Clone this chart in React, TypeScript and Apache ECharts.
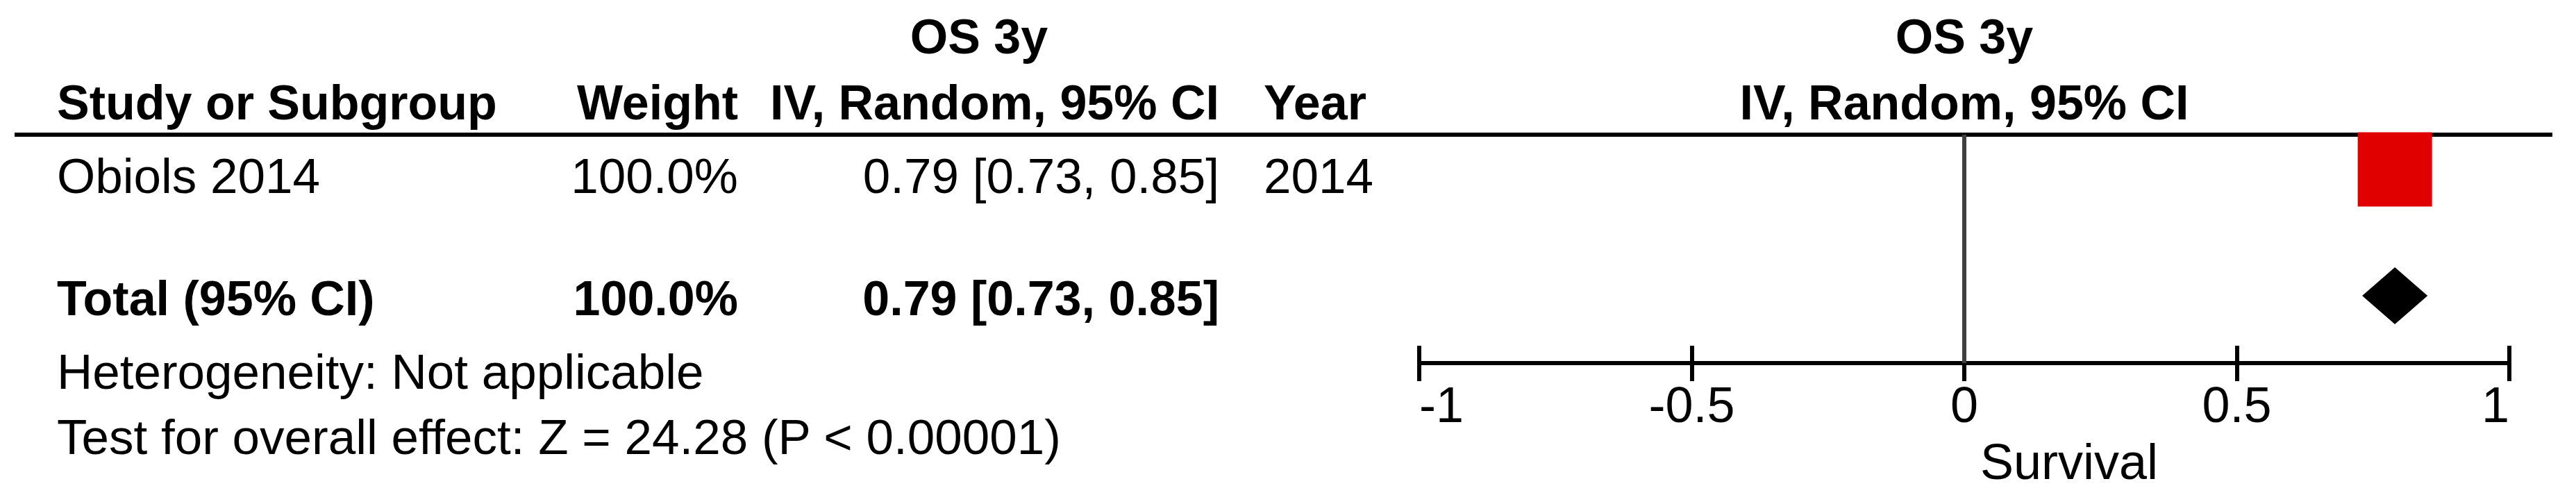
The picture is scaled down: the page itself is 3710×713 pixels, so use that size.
import React, { useEffect, useRef } from 'react';
import * as echarts from 'echarts';

// ---- data ----
const groupTitle = 'OS 3y';
const headerLabels = ['Study or Subgroup', 'Weight', 'IV, Random, 95% CI', 'Year'];
const plotTitle = 'IV, Random, 95% CI';
const studyNames = ['Obiols 2014'];
const studyWeights = ['100.0%'];
const studyYears = ['2014'];
const studyEstimates = [0.79];
const studyLower = [0.73];
const studyUpper = [0.85];
const studyRows = [1];
const totalLabel = 'Total (95% CI)';
const totalWeight = '100.0%';
const totalEstimate = 0.79;
const totalLower = 0.73;
const totalUpper = 0.85;
const totalRow = 3;
const heterogeneityText = 'Heterogeneity: Not applicable';
const overallEffectText = 'Test for overall effect: Z = 24.28 (P < 0.00001)';
const xTickValues = [-1, -0.5, 0, 0.5, 1];
const axisTitle = 'Survival';

const FONT = "'Liberation Sans', Arial, sans-serif";

const fmtCI = (e: number, l: number, u: number) =>
  `${e.toFixed(2)} [${l.toFixed(2)}, ${u.toFixed(2)}]`;

function txt(text: string, x: number, y: number, opts: { bold?: boolean; align?: string; size?: number } = {}) {
  const align = opts.align || 'left';
  return {
    type: 'text',
    x,
    y,
    silent: true,
    style: {
      text,
      fill: '#000',
      fontFamily: FONT,
      fontSize: opts.size || (opts.bold ? 70 : 71),
      fontWeight: opts.bold ? 'bold' : 'normal',
      align,
      textAlign: align,
      verticalAlign: 'middle',
      textVerticalAlign: 'middle',
    },
  };
}

export default function App() {
  const ref = useRef<HTMLDivElement>(null);
  useEffect(() => {
    if (!ref.current) return;
    const chart = echarts.init(ref.current, null, { renderer: 'svg' });

    const COL_STUDY = 82;
    const COL_WEIGHT = 1063;
    const COL_CI = 1756;
    const COL_YEAR = 1820;
    const Y_GROUP = 53;
    const Y_HEAD = 148;
    const studyY = [253];
    const Y_TOTAL = 430;
    const Y_HET = 535;
    const Y_TEST = 629;

    const graphics: any[] = [
      { type: 'line', z: 0, shape: { x1: 21, y1: 194, x2: 3676, y2: 194 }, style: { stroke: '#000', lineWidth: 6 } },
      txt(groupTitle, 1410, Y_GROUP, { bold: true, align: 'center' }),
      txt(headerLabels[0], COL_STUDY, Y_HEAD, { bold: true }),
      txt(headerLabels[1], COL_WEIGHT, Y_HEAD, { bold: true, align: 'right' }),
      txt(headerLabels[2], COL_CI, Y_HEAD, { bold: true, align: 'right' }),
      txt(headerLabels[3], COL_YEAR, Y_HEAD, { bold: true }),
      txt(groupTitle, 2829, Y_GROUP, { bold: true, align: 'center' }),
      txt(plotTitle, 2829, Y_HEAD, { bold: true, align: 'center' }),
      txt(totalLabel, COL_STUDY, Y_TOTAL, { bold: true }),
      txt(totalWeight, COL_WEIGHT, Y_TOTAL, { bold: true, align: 'right' }),
      txt(fmtCI(totalEstimate, totalLower, totalUpper), COL_CI, Y_TOTAL, { bold: true, align: 'right' }),
      txt(heterogeneityText, COL_STUDY, Y_HET),
      txt(overallEffectText, COL_STUDY, Y_TEST),
      txt(axisTitle, 2852, 665, { size: 72 }),
    ];
    studyNames.forEach((n, i) => {
      graphics.push(txt(n, COL_STUDY, studyY[i]));
      graphics.push(txt(studyWeights[i], COL_WEIGHT, studyY[i], { align: 'right' }));
      graphics.push(txt(fmtCI(studyEstimates[i], studyLower[i], studyUpper[i]), COL_CI, studyY[i], { align: 'right' }));
      graphics.push(txt(studyYears[i], COL_YEAR, studyY[i]));
    });

    const xMin = xTickValues[0];
    const xMax = xTickValues[xTickValues.length - 1];
    const xInt = xTickValues[1] - xTickValues[0];

    chart.setOption({
      animation: false,
      backgroundColor: '#fff',
      grid: { left: 2044, right: 96, top: 194, bottom: 190, containLabel: false },
      xAxis: [
        {
          type: 'value', min: xMin, max: xMax, interval: xInt, position: 'bottom',
          axisLine: { show: true, lineStyle: { color: '#000', width: 6 } },
          axisTick: { show: true, inside: false, length: 26, lineStyle: { color: '#000', width: 6 } },
          axisLabel: {
            show: true, margin: 24, color: '#000', fontSize: 72, fontFamily: FONT,
            alignMinLabel: 'left', alignMaxLabel: 'right',
          },
          splitLine: { show: false },
        },
        {
          type: 'value', min: xMin, max: xMax, interval: xInt, position: 'bottom',
          axisLine: { show: false },
          axisTick: { show: true, inside: true, length: 25, lineStyle: { color: '#000', width: 6 } },
          axisLabel: { show: false },
          splitLine: { show: false },
        },
      ],
      yAxis: { type: 'value', min: 0.4505, max: 4.066, inverse: true, show: false },
      graphic: { elements: graphics },
      series: [
        {
          type: 'custom',
          z: 2,
          renderItem: (params: any, api: any) => {
            const a = api.coord([api.value(0), api.value(2)]);
            const b = api.coord([api.value(1), api.value(2)]);
            return { type: 'line', shape: { x1: a[0], y1: a[1], x2: b[0], y2: b[1] }, style: { stroke: '#000', lineWidth: 3 } };
          },
          encode: { x: [0, 1], y: 2 },
          data: studyLower.map((l, i) => [l, studyUpper[i], studyRows[i]]),
          markLine: {
            silent: true,
            symbol: ['none', 'none'],
            label: { show: false },
            lineStyle: { color: '#404040', width: 6, type: 'solid' },
            data: [{ xAxis: 0 }],
          },
        },
        {
          type: 'scatter',
          z: 5,
          symbol: 'rect',
          symbolSize: 107,
          itemStyle: { color: '#E00000', opacity: 1 },
          data: studyEstimates.map((e, i) => [e, studyRows[i]]),
        },
        {
          type: 'custom',
          z: 5,
          renderItem: (params: any, api: any) => {
            const lo = api.coord([api.value(0), api.value(3)]);
            const mid = api.coord([api.value(1), api.value(3)]);
            const hi = api.coord([api.value(2), api.value(3)]);
            const h = 41;
            return {
              type: 'polygon',
              shape: { points: [[lo[0], lo[1]], [mid[0], mid[1] - h], [hi[0], hi[1]], [mid[0], mid[1] + h]] },
              style: { fill: '#000' },
            };
          },
          encode: { x: [0, 1, 2], y: 3 },
          data: [[totalLower, totalEstimate, totalUpper, totalRow]],
        },
      ],
    });
    return () => chart.dispose();
  }, []);
  return (
    <div
      ref={ref}
      style={{ position: 'fixed', left: 0, top: 0, width: 3710, height: 713, background: '#fff' }}
    />
  );
}
